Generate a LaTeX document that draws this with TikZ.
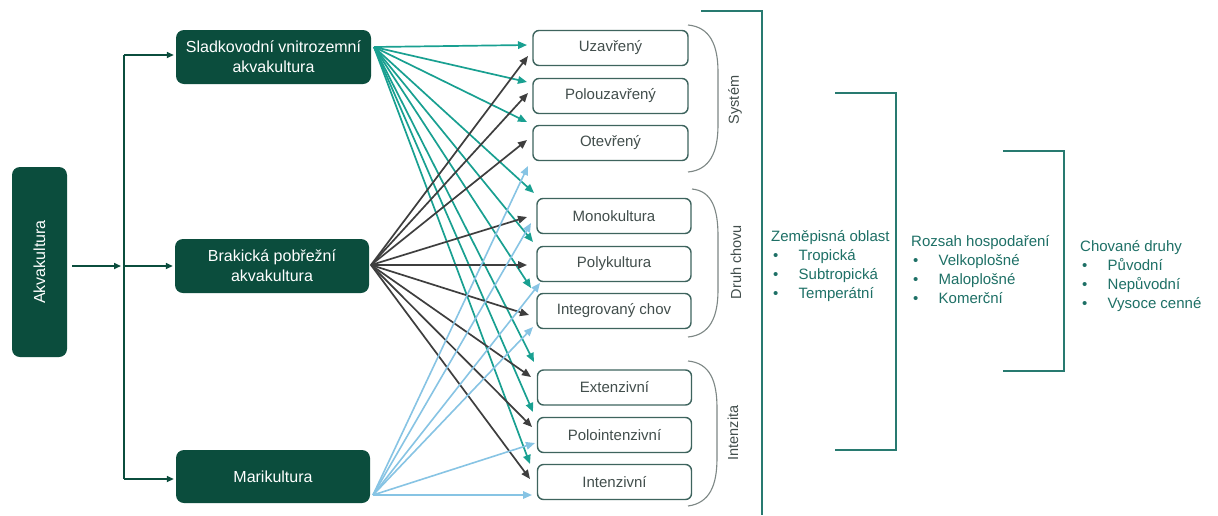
\documentclass[tikz,border=0pt]{standalone}
\usepackage{fontspec}
\setmainfont{Liberation Sans}
\usetikzlibrary{arrows.meta,calc}
\definecolor{dgreen}{RGB}{11,77,61}
\definecolor{tealA}{RGB}{25,160,145}
\definecolor{dgrayA}{RGB}{62,62,62}
\definecolor{lblue}{RGB}{135,196,228}
\definecolor{brk}{RGB}{40,122,112}
\definecolor{boxline}{RGB}{62,100,94}
\definecolor{boxtext}{RGB}{66,78,76}
\definecolor{bracecol}{RGB}{125,135,133}
\definecolor{ltext}{RGB}{30,112,102}
\newcommand{\bl}{\hspace*{2pt}\makebox[25.5pt][l]{\textbullet}}
\begin{document}
\begin{tikzpicture}[x=1pt,y=-1pt,
  gbox/.style={fill=dgreen, rounded corners=8pt, text=white, minimum width=195pt, minimum height=54pt, align=center, inner sep=0pt, font=\fontsize{16}{20}\selectfont},
  wbox/.style={draw=boxline, line width=1.4pt, fill=white, rounded corners=6pt, text=boxtext, minimum width=154pt, minimum height=35pt, inner sep=0pt, font=\fontsize{15}{18}\selectfont},
  garrow/.style={draw=dgreen, line width=1.6pt, -{Triangle[length=7pt,width=6pt]}},
  tarrow/.style={draw=tealA, line width=1.7pt, -{Triangle[length=9pt,width=7.5pt]}},
  darrow/.style={draw=dgrayA, line width=1.7pt, -{Triangle[length=9pt,width=7.5pt]}},
  barrow/.style={draw=lblue, line width=1.6pt, -{Triangle[length=9pt,width=7.5pt]}},
  bracestyle/.style={draw=bracecol, line width=1.1pt},
  bigbrk/.style={draw=brk, line width=2.6pt},
  rlabel/.style={rotate=90, text=boxtext, font=\fontsize{14.5}{17}\selectfont},
  listn/.style={anchor=base west, inner sep=0pt, text=ltext, font=\fontsize{15}{19}\selectfont}
]
\useasboundingbox[fill=white] (0,0) rectangle (1218,515);

% left green boxes
\node[gbox, rotate=90, minimum width=190pt, minimum height=55pt] (akv) at (39.5,262) {Akvakultura};
\node[gbox] (slad) at (273.5,57) {Sladkovodní vnitrozemní\\akvakultura};
\node[gbox, minimum width=194pt] (brak) at (272,266) {Brakická pobřežní\\akvakultura};
\node[gbox, minimum width=194pt, minimum height=53pt] (mari) at (273,476.5) {Marikultura};

% tree connectors
\coordinate (jt) at (124,55);
\coordinate (jm) at (124,266);
\coordinate (jb) at (124,479);
\draw[draw=dgreen, line width=1.6pt] (jt) -- (jb);
\draw[garrow] (akv.south |- jm) ++(5,0) coordinate (a0) -- ($(jm)+(-3,0)$);
\draw[garrow] (jt) -- ($(jt -| slad.west)+(-2,0)$);
\draw[garrow] (jm) -- ($(jm -| brak.west)+(-2,0)$);
\draw[garrow] (jb) -- ($(jb -| mari.west)+(-2,0)$);

% white boxes
\node[wbox, minimum width=155pt] (uz) at (610.5,48) {Uzavřený};
\node[wbox, minimum width=155pt] (pouz) at (610.5,96) {Polouzavřený};
\node[wbox, minimum width=155pt] (otev) at (610.5,143) {Otevřený};
\node[wbox] (mono) at (614,216) {Monokultura};
\node[wbox] (poly) at (614,264) {Polykultura};
\node[wbox] (integ) at (614,311) {Integrovaný chov};
\node[wbox] (ext) at (614.5,387.5) {Extenzivní};
\node[wbox] (polint) at (614.5,435) {Polointenzivní};
\node[wbox] (intz) at (614.5,482) {Intenzivní};

% arrow start points
\coordinate (sS) at (374,47);
\coordinate (bS) at (371,265);
\coordinate (mS) at (373,495);

% teal arrows (Sladkovodni)
\foreach \p in {(527,45),(527,82),(527,122),(534,193),(533,242),(531,288),(534,362),(533,412),(530,464)}
  \draw[tarrow] (sS) -- \p;
% dark gray arrows (Brakicka)
\foreach \p in {(528,56),(528,93),(527,140),(527,217),(527,265),(529,315),(531,377),(532,427),(530,479)}
  \draw[darrow] (bS) -- \p;
% light blue arrows (Marikultura)
\foreach \p in {(528,166),(531,223),(540,283),(533,327),(535,443),(532,495)}
  \draw[barrow] (mS) -- \p;

% braces
\draw[bracestyle] (688,25) .. controls (710,27) and (718,45) .. (718,72) -- (718,125) .. controls (718,152) and (710,170) .. (688,172);
\draw[bracestyle] (692,189) .. controls (712,191) and (718,209) .. (718,236) -- (718,290) .. controls (718,317) and (710,335) .. (688,337);
\draw[bracestyle] (688,361) .. controls (710,363) and (717,381) .. (717,408) -- (717,458) .. controls (717,485) and (710,503) .. (688,506);
\node[rlabel] (sys) at (735,100) {Systém};
\node[rlabel] (druh) at (736,262) {Druh chovu};
\node[rlabel] (inten) at (733,433) {Intenzita};

% big brackets
\draw[bigbrk] (701,11) -- (762,11) -- (762,515);
\draw[bigbrk] (835,93) -- (896,93) -- (896,450) -- (835,450);
\draw[bigbrk] (1003,151) -- (1064,151) -- (1064,371) -- (1003,371);

% lists
\node[listn] (zem) at (771,241.5) {\begin{tabular}[t]{@{}l@{}}Zeměpisná oblast\\\bl Tropická\\\bl Subtropická\\\bl Temperátní\end{tabular}};
\node[listn] (roz) at (911,246.5) {\begin{tabular}[t]{@{}l@{}}Rozsah hospodaření\\\bl Velkoplošné\\\bl Maloplošné\\\bl Komerční\end{tabular}};
\node[listn] (chov) at (1080,251.5) {\begin{tabular}[t]{@{}l@{}}Chované druhy\\\bl Původní\\\bl Nepůvodní\\\bl Vysoce cenné\end{tabular}};
\end{tikzpicture}
\end{document}
